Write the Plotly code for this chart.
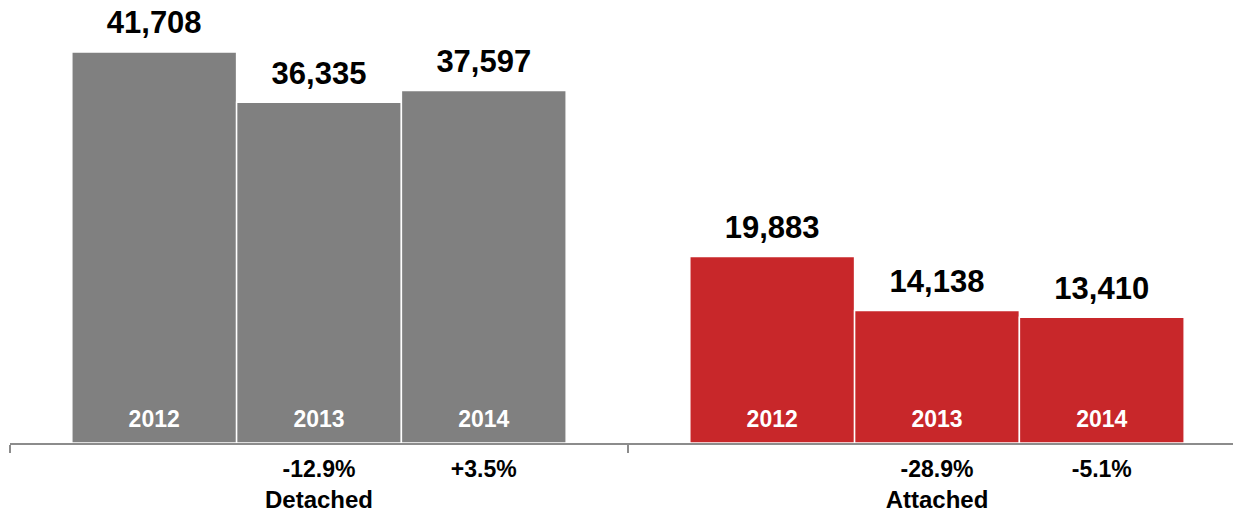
import plotly.graph_objects as go

types = ["Detached", "Attached"]
years = ["2012", "2013", "2014"]
sales = {
    "2012": [41708, 19883],
    "2013": [36335, 14138],
    "2014": [37597, 13410],
}
changes = {
    "2012": ["", ""],
    "2013": ["-12.9%", "-28.9%"],
    "2014": ["+3.5%", "-5.1%"],
}
colors = ["#808080", "#C8272A"]

FONT = "Liberation Sans, Arial, Helvetica, sans-serif"

fig = go.Figure()
for yr in years:
    vals = sales[yr]
    zeros = [0 for _ in vals]
    fig.add_trace(go.Bar(
        x=types, y=vals, offsetgroup=yr, name=yr,
        marker=dict(color=colors, line=dict(color="white", width=1.5)),
        hoverinfo="skip",
    ))
    # value labels above bars
    fig.add_trace(go.Scatter(
        x=types, y=vals, offsetgroup=yr, mode="markers+text",
        text=[f"{v:,}" for v in vals], textposition="top center",
        textfont=dict(family=FONT, size=31, color="black", weight="bold"),
        marker=dict(size=16, opacity=0), cliponaxis=False, hoverinfo="skip",
    ))
    # year labels inside bars
    fig.add_trace(go.Scatter(
        x=types, y=zeros, offsetgroup=yr, mode="markers+text",
        text=[yr, yr], textposition="top center",
        textfont=dict(family=FONT, size=23, color="white", weight="bold"),
        marker=dict(size=15, opacity=0), cliponaxis=False, hoverinfo="skip",
    ))
    # change labels below axis
    fig.add_trace(go.Scatter(
        x=types, y=zeros, offsetgroup=yr, mode="markers+text",
        text=changes[yr], textposition="bottom center",
        textfont=dict(family=FONT, size=23, color="black", weight="bold"),
        marker=dict(size=25, opacity=0), cliponaxis=False, hoverinfo="skip",
    ))

fig.update_layout(
    width=1233, height=514,
    barmode="group", bargap=0.2, bargroupgap=0,
    scattermode="group", scattergap=0.2,
    showlegend=False, hovermode=False,
    plot_bgcolor="white", paper_bgcolor="white",
    margin=dict(l=10, r=0, t=0, b=71),
    xaxis=dict(
        range=[-0.5, 1.479], showline=True, linecolor="#8c8c8c", linewidth=2,
        ticks="outside", tickson="boundaries", ticklen=8, tickcolor="#8c8c8c", tickwidth=2,
        tickfont=dict(family=FONT, size=24, color="black", weight="bold"),
        ticklabelstandoff=34, showgrid=False, zeroline=False,
    ),
    yaxis=dict(range=[0, 47250], visible=False),
)

# page body has a default 8px margin; drop it so the figure fills the window
fig.write_html(
    "out.html",
    config={"displayModeBar": False},
    post_script="document.body.style.margin='0';",
)
